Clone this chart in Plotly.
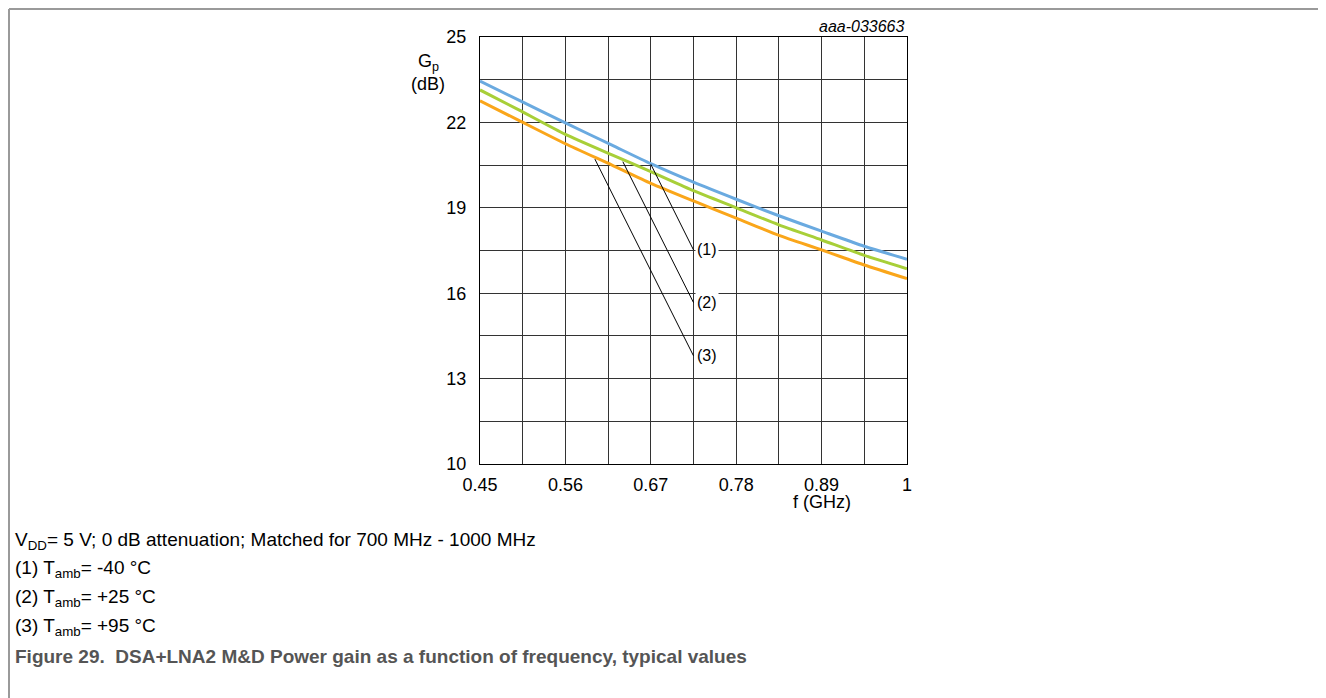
import plotly.graph_objects as go

# ---- data ----
freq_ghz = [0.45, 0.50, 0.56, 0.62, 0.67, 0.725, 0.78, 0.835, 0.89, 0.945, 1.0]
gain_m40 = [23.45, 22.78, 21.98, 21.20, 20.55, 19.90, 19.30, 18.72, 18.18, 17.65, 17.19]
gain_p25 = [23.14, 22.44, 21.58, 20.86, 20.27, 19.60, 19.00, 18.40, 17.87, 17.33, 16.86]
gain_p95 = [22.76, 22.07, 21.25, 20.50, 19.86, 19.24, 18.64, 18.03, 17.52, 16.99, 16.51]

series_names = ["(1)", "(2)", "(3)"]
series_colors = ["#6AAAE0", "#A8CF38", "#FAA61A"]

# leader lines: start on curve -> end at label
leader_x0 = [0.670, 0.634, 0.598]
leader_y0 = [20.53, 20.62, 20.71]
leader_x1 = [0.725, 0.725, 0.725]
leader_y1 = [17.52, 15.67, 13.80]

x_tick_vals = [0.45, 0.56, 0.67, 0.78, 0.89, 1.0]
x_tick_text = ["0.45", "0.56", "0.67", "0.78", "0.89", "1"]
x_grid = [0.45 + 0.055 * i for i in range(11)]
y_tick_vals = [10, 13, 16, 19, 22, 25]
y_tick_text = ["10", "13", "16", "19", "22", "25"]
y_grid = [10 + 1.5 * i for i in range(11)]

caption_lines = [
    "V<sub>DD</sub>= 5 V; 0 dB attenuation; Matched for 700 MHz - 1000 MHz",
    "(1) T<sub>amb</sub>= -40 °C",
    "(2) T<sub>amb</sub>= +25 °C",
    "(3) T<sub>amb</sub>= +95 °C",
]
figure_title = "Figure 29.\u00a0 DSA+LNA2 M&D Power gain as a function of frequency, typical values"

# ---- layout geometry (page pixels; page body has an 8px margin) ----
OFF = 8
PAGE_W, PAGE_H = 1326, 698
W, H = PAGE_W - OFF, PAGE_H - OFF
PL, PR, PT, PB = 480, 907, 37, 464          # plot area in page pixels
PW, PH = PR - PL, PB - PT


def px(x):
    return (x - PL) / PW


def py(y):
    return (PB - y) / PH


FONT = "Liberation Sans, Arial, sans-serif"
GRID = "#333333"

fig = go.Figure()
for ys, name, col in zip([gain_m40, gain_p25, gain_p95], series_names, series_colors):
    fig.add_trace(go.Scatter(x=freq_ghz, y=ys, mode="lines", name=name,
                             line=dict(color=col, width=3, shape="spline", smoothing=0.6),
                             hoverinfo="skip"))

for i in range(3):
    fig.add_trace(go.Scatter(x=[leader_x0[i], leader_x1[i]], y=[leader_y0[i], leader_y1[i]],
                             mode="lines", line=dict(color="black", width=1),
                             hoverinfo="skip", showlegend=False))

annotations = []
for i in range(3):
    annotations.append(dict(x=leader_x1[i], y=leader_y1[i], xref="x", yref="y",
                            text=series_names[i], showarrow=False, xanchor="left",
                            yanchor="middle", xshift=1, bgcolor="white", borderpad=1,
                            font=dict(family=FONT, size=16, color="black")))

annotations += [
    dict(x=1.0, y=py(27), xref="paper", yref="paper", text="<i>aaa-033663</i>",
         showarrow=False, xanchor="right", yanchor="middle",
         font=dict(family=FONT, size=16, color="black")),
    dict(x=px(428), y=py(63), xref="paper", yref="paper", text="G<sub>p</sub>",
         showarrow=False, xanchor="center", yanchor="middle",
         font=dict(family=FONT, size=18, color="black")),
    dict(x=px(428), y=py(84), xref="paper", yref="paper", text="(dB)",
         showarrow=False, xanchor="center", yanchor="middle",
         font=dict(family=FONT, size=18, color="black")),
    dict(x=0.89, y=py(502), xref="x", yref="paper", text="f (GHz)",
         showarrow=False, xanchor="center", yanchor="middle",
         font=dict(family=FONT, size=18, color="black")),
]

CAP_X = 13
cap_y = [541, 569, 598, 627]
for t, yy in zip(caption_lines, cap_y):
    annotations.append(dict(x=px(CAP_X), y=py(yy), xref="paper", yref="paper", text=t,
                            showarrow=False, xanchor="left", yanchor="middle",
                            font=dict(family=FONT, size=19, color="black")))
annotations.append(dict(x=px(CAP_X), y=py(656), xref="paper", yref="paper",
                        text="<b>" + figure_title + "</b>", showarrow=False,
                        xanchor="left", yanchor="middle",
                        font=dict(family=FONT, size=19, color="#555555")))

# outer frame (kept inside the figure, which starts at page pixel 8)
BX, BY = OFF + 1, OFF + 1
shapes = [
    dict(type="line", xref="paper", yref="paper", x0=px(BX), y0=py(BY), x1=px(PAGE_W + 2), y1=py(BY),
         line=dict(color="#9a9a9a", width=2)),
    dict(type="line", xref="paper", yref="paper", x0=px(BX), y0=py(BY), x1=px(BX), y1=py(PAGE_H + 2),
         line=dict(color="#9a9a9a", width=2)),
]

fig.update_layout(
    width=W, height=H, autosize=False,
    margin=dict(l=PL - OFF, r=PAGE_W - PR, t=PT - OFF, b=PAGE_H - PB, pad=0),
    paper_bgcolor="white", plot_bgcolor="white",
    showlegend=False,
    annotations=annotations, shapes=shapes,
    font=dict(family=FONT, color="black"),
)
fig.update_xaxes(range=[0.45, 1.0], tickmode="array", tickvals=x_tick_vals, ticktext=x_tick_text,
                 showgrid=True, gridcolor=GRID, gridwidth=1, zeroline=False,
                 minor=dict(tickmode="array", tickvals=x_grid, showgrid=True,
                            gridcolor=GRID, gridwidth=1, ticks=""),
                 showline=True, linecolor="black", linewidth=1, mirror=True,
                 ticks="", ticklabelstandoff=4,
                 tickfont=dict(family=FONT, size=18, color="black"))
fig.update_yaxes(range=[10, 25], tickmode="array", tickvals=y_tick_vals, ticktext=y_tick_text,
                 showgrid=True, gridcolor=GRID, gridwidth=1, zeroline=False,
                 minor=dict(tickmode="array", tickvals=y_grid, showgrid=True,
                            gridcolor=GRID, gridwidth=1, ticks=""),
                 showline=True, linecolor="black", linewidth=1, mirror=True,
                 ticks="", ticklabelstandoff=9,
                 tickfont=dict(family=FONT, size=18, color="black"))

fig.write_html("out.html")
